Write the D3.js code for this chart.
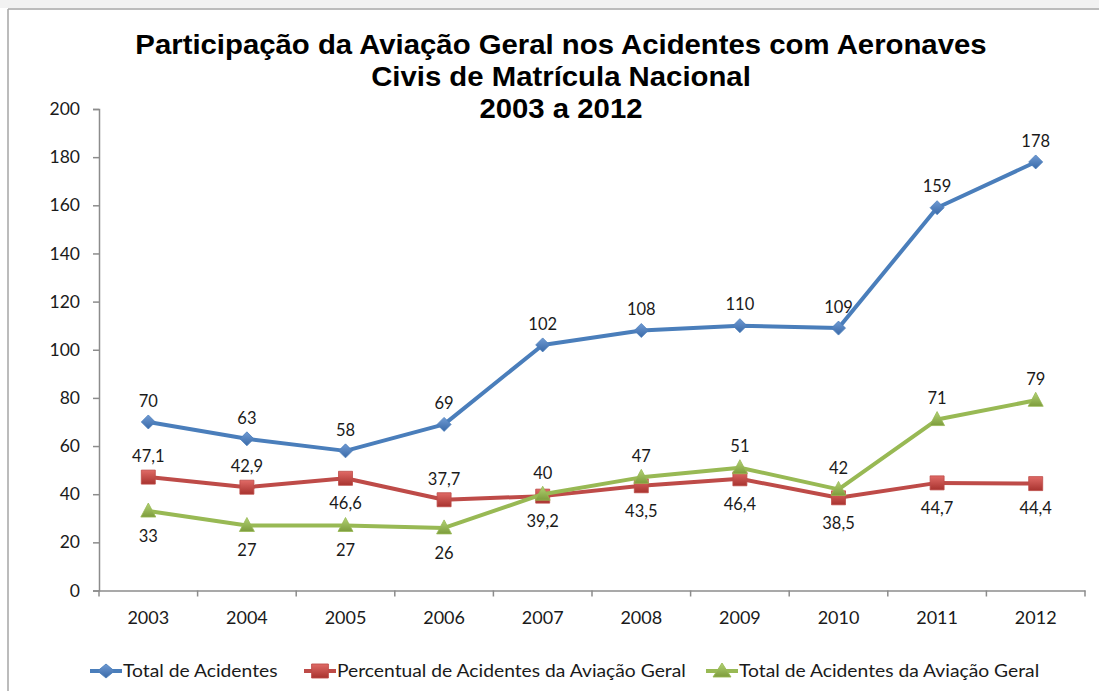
<!DOCTYPE html>
<html>
<head>
<meta charset="utf-8">
<script src="https://cdn.jsdelivr.net/npm/d3@7"></script>
<style>
  html, body { margin: 0; padding: 0; background: #fff; }
  svg { display: block; }
</style>
</head>
<body>
<svg id="chart" width="1099" height="691"></svg>
<script>
// ---- data ----
const years = ["2003","2004","2005","2006","2007","2008","2009","2010","2011","2012"];
const totalAcidentes = [70, 63, 58, 69, 102, 108, 110, 109, 159, 178];
const percentualAG = [47.1, 42.9, 46.6, 37.7, 39.2, 43.5, 46.4, 38.5, 44.7, 44.4];
const totalAG = [33, 27, 27, 26, 40, 47, 51, 42, 71, 79];
const yTicks = [0, 20, 40, 60, 80, 100, 120, 140, 160, 180, 200];
const seriesNames = ["Total de Acidentes", "Percentual de Acidentes da Aviação Geral", "Total de Acidentes da Aviação Geral"];
const titleLines = ["Participação da Aviação Geral nos Acidentes com Aeronaves", "Civis de Matrícula Nacional", "2003 a 2012"];
// label placement (above / below) per point
const placeTotal = ["above","above","above","above","above","above","above","above","above","above"];
const placePerc = ["above","above","below","above","below","below","below","below","below","below"];
const placeAG = ["below","below","below","below","above","above","above","above","above","above"];

const svg = d3.select("#chart");
const W = 1099, H = 691;
const M = { left: 99, right: 1085, top: 109, bottom: 590.5 };
const stretch = 1.086; // horizontal stretch of text in the reference

// frame like a screenshot edge
svg.append("rect").attr("x", 0).attr("y", 0).attr("width", W).attr("height", 8).attr("fill", "#f2f2f2");
svg.append("line").attr("x1", 8).attr("x2", W).attr("y1", 9).attr("y2", 9).attr("stroke", "#a6a6a6").attr("stroke-width", 1.5);
svg.append("line").attr("x1", 8).attr("x2", 8).attr("y1", 9).attr("y2", H).attr("stroke", "#a6a6a6").attr("stroke-width", 1.5);

// gradients
const defs = svg.append("defs");
function grad(id, c1, c2) {
  const g = defs.append("linearGradient").attr("id", id).attr("x1", 0).attr("y1", 0).attr("x2", 0).attr("y2", 1);
  g.append("stop").attr("offset", "0%").attr("stop-color", c1);
  g.append("stop").attr("offset", "100%").attr("stop-color", c2);
}
grad("gBlue", "#6f9ad3", "#3a6aa8");
grad("gRed", "#e06a66", "#a8332f");
grad("gGreen", "#b2d274", "#7d9c3c");

function stretchText(sel, f) {
  sel.each(function () {
    const w = this.getComputedTextLength();
    d3.select(this).attr("textLength", w * f).attr("lengthAdjust", "spacingAndGlyphs");
  });
}

// title
const title = svg.append("g");
titleLines.forEach((t, i) => {
  title.append("text").attr("text-anchor", "middle")
    .attr("font-family", "'Liberation Sans', Arial, sans-serif").attr("font-weight", "bold")
    .attr("font-size", 27).attr("fill", "#000")
    .attr("x", 561).attr("y", 54 + i * 32).text(t);
});
stretchText(title.selectAll("text"), stretch);

// scales
const x = d3.scaleBand().domain(years).range([M.left, M.right]).padding(0);
const y = d3.scaleLinear().domain([0, 200]).range([M.bottom, M.top]);
const cx = d => x(d) + x.bandwidth() / 2;

const axisColor = "#8c8c8c";
const fontFam = "Lato, 'Open Sans', sans-serif";

// y axis
const yAxis = svg.append("g").attr("transform", `translate(${M.left},0)`)
  .call(d3.axisLeft(y).tickValues(yTicks).tickSize(6).tickPadding(13).tickFormat(d3.format("d")));
yAxis.select(".domain").attr("stroke", axisColor).attr("stroke-width", 1.5);
yAxis.selectAll(".tick line").attr("stroke", axisColor).attr("stroke-width", 1.5);
yAxis.selectAll(".tick text").attr("font-family", fontFam).attr("font-size", 17.5).attr("fill", "#1a1a1a");

// x axis
const xAxis = svg.append("g").attr("transform", `translate(0,${M.bottom})`)
  .call(d3.axisBottom(x).tickSize(0).tickPadding(21));
xAxis.select(".domain").attr("stroke", axisColor).attr("stroke-width", 1.5);
xAxis.selectAll(".tick text").attr("font-family", fontFam).attr("font-size", 18).attr("fill", "#1a1a1a");
// boundary ticks
const bounds = years.map(d => x(d)).concat([M.right]);
xAxis.selectAll(".bt").data(bounds).enter().append("line")
  .attr("x1", d => d).attr("x2", d => d).attr("y1", 0).attr("y2", 6)
  .attr("stroke", axisColor).attr("stroke-width", 1.5);

const series = [
  { name: seriesNames[0], values: totalAcidentes, color: "#4a7ebb", fill: "url(#gBlue)", shape: "diamond", place: placeTotal, fmt: d3.format("d") },
  { name: seriesNames[1], values: percentualAG, color: "#be4b48", fill: "url(#gRed)", shape: "square", place: placePerc, fmt: v => d3.format(".1f")(v).replace(".", ",") },
  { name: seriesNames[2], values: totalAG, color: "#98b954", fill: "url(#gGreen)", shape: "triangle", place: placeAG, fmt: d3.format("d") }
];

function markerPath(shape) {
  if (shape === "diamond") return "M0,-7L7,0L0,7L-7,0Z";
  if (shape === "square") return "M-7,-7H7V7H-7Z";
  return "M0,-8L7.5,6L-7.5,6Z";
}

const line = d3.line().x(d => cx(d.year)).y(d => y(d.v));

series.forEach(s => {
  const pts = years.map((yr, i) => ({ year: yr, v: s.values[i], place: s.place[i] }));
  const g = svg.append("g");
  g.append("path").datum(pts).attr("d", line).attr("fill", "none")
    .attr("stroke", s.color).attr("stroke-width", 4).attr("stroke-linejoin", "round");
  g.selectAll("path.m").data(pts).enter().append("path").attr("class", "m")
    .attr("d", markerPath(s.shape))
    .attr("transform", d => `translate(${cx(d.year)},${y(d.v)})`)
    .attr("fill", s.fill).attr("stroke", s.color).attr("stroke-width", 0.8);
  g.selectAll("text").data(pts).enter().append("text")
    .attr("x", d => cx(d.year))
    .attr("y", d => y(d.v) + (d.place === "above" ? -21 : 25))
    .attr("dy", "0.35em").attr("text-anchor", "middle")
    .attr("font-family", fontFam).attr("font-size", 16.5).attr("fill", "#1a1a1a")
    .text(d => s.fmt(d.v));
});

// legend
const legendItems = [
  { s: series[0], x: 90 },
  { s: series[1], x: 304 },
  { s: series[2], x: 706 }
];
const lg = svg.append("g");
legendItems.forEach(it => {
  const ly = 671;
  lg.append("line").attr("x1", it.x).attr("x2", it.x + 32).attr("y1", ly).attr("y2", ly)
    .attr("stroke", it.s.color).attr("stroke-width", 4);
  lg.append("path").attr("d", markerPath(it.s.shape))
    .attr("transform", `translate(${it.x + 16},${ly}) scale(1.2,1)`)
    .attr("fill", it.s.fill).attr("stroke", it.s.color).attr("stroke-width", 0.8);
  lg.append("text").attr("x", it.x + 33).attr("y", ly).attr("dy", "0.35em")
    .attr("font-family", fontFam).attr("font-size", 18).attr("fill", "#1a1a1a")
    .text(it.s.name);
});
stretchText(lg.selectAll("text"), 1.07);
</script>
</body>
</html>
